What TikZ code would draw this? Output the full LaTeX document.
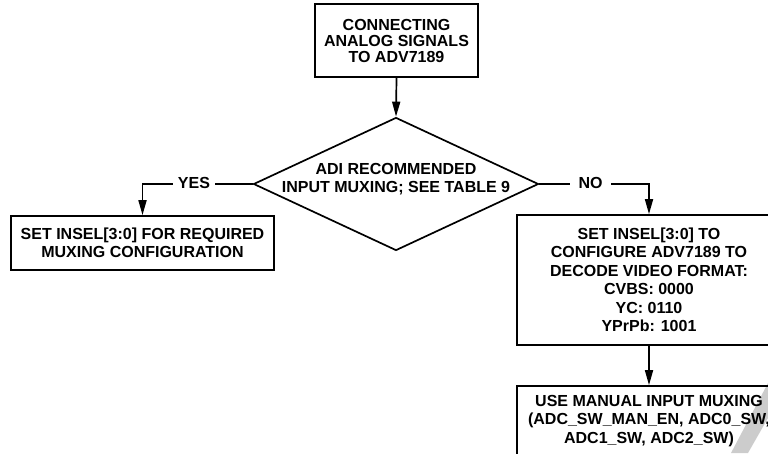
\documentclass[tikz,border=0pt]{standalone}
\usepackage{fontspec}
\setmainfont{Liberation Sans}
\usetikzlibrary{shapes.geometric,arrows.meta}
\begin{document}
\begin{tikzpicture}[x=1pt,y=-1pt,
  box/.style={draw,line width=1.7pt,inner sep=0pt,align=center,font=\bfseries\fontsize{16}{18.5}\selectfont},
  txt/.style={inner sep=0pt,align=center,font=\bfseries\fontsize{16}{18.5}\selectfont},
  lbl/.style={inner sep=0pt,font=\bfseries\fontsize{16}{18.5}\selectfont},
  conn/.style={line width=1.7pt},
  arr/.style={line width=1.7pt,-{Triangle[length=15pt,width=8pt]}}]
\useasboundingbox (0,0) rectangle (768,453);
\clip (0,0) rectangle (768,453);
\fill[gray!40] (768,383) -- (731,453) -- (748,453) -- (768,418) -- cycle;
\node[box,minimum width=163,minimum height=73,font=\bfseries\fontsize{16}{16}\selectfont] (start) at (396.5,40.5) {CONNECTING\\ANALOG SIGNALS\\TO ADV7189};
\node[draw,line width=1.7pt,diamond,minimum width=285,minimum height=133,inner sep=0pt] (dec) at (396,184) {};
\node[txt] (dectxt) at (396,179) {ADI RECOMMENDED\\INPUT MUXING; SEE TABLE 9};
\node[box,minimum width=263,minimum height=54] (yesbox) at (142.5,243) {SET INSEL[3:0] FOR REQUIRED\\MUXING CONFIGURATION};
\node[box,minimum width=264,minimum height=130] (nobox) at (649,280) {SET INSEL[3:0] TO\\CONFIGURE ADV7189 TO\\DECODE VIDEO FORMAT:\\CVBS: 0000\\YC: 0110\\YPrPb: 1001};
\node[box,minimum width=264,minimum height=70] (manbox) at (649,421) {USE MANUAL INPUT MUXING\\(ADC\_SW\_MAN\_EN, ADC0\_SW,\\ADC1\_SW, ADC2\_SW)};
\node[lbl,inner xsep=5pt] (yes) at (194,183) {YES};
\node[lbl,inner xsep=8.5pt] (no) at (590.5,183) {NO};
\draw[arr] (start.south) -- (dec.north);
\draw[conn] (dec.west) -- (dec.west -| yes.east);
\draw[arr] (yes.west |- dec.west) -| (yesbox.north);
\draw[conn] (dec.east) -- (dec.east -| no.west);
\draw[arr] (no.east |- dec.east) -| (nobox.north);
\draw[arr] (nobox.south) -- (manbox.north);
\end{tikzpicture}
\end{document}
